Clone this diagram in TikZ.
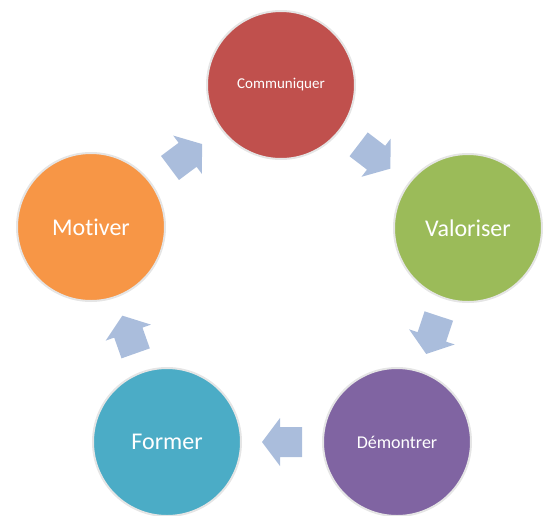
\documentclass[tikz,border=0pt]{standalone}
\usepackage{fontspec}
\setmainfont[Ligatures=NoCommon]{Carlito}
\usetikzlibrary{calc}
\definecolor{comred}{RGB}{192,80,77}
\definecolor{valgreen}{RGB}{155,187,89}
\definecolor{dempurple}{RGB}{128,100,162}
\definecolor{foraqua}{RGB}{75,172,198}
\definecolor{motorange}{RGB}{247,150,70}
\definecolor{flowblue}{RGB}{170,189,220}
\tikzset{stage/.style={circle, minimum size=148pt, inner sep=0pt, draw=black!10, line width=2pt, text=white, font=\fontsize{24}{28}\selectfont}}
\tikzset{flow/.style={fill=flowblue, draw=none}}
\begin{document}
\begin{tikzpicture}[x=1pt, y=-1pt]
    \useasboundingbox (0, 0) rectangle (552, 515);
    \node[stage, fill=comred, font=\fontsize{15}{18}\selectfont] (C) at (281, 85) {Communiquer};
    \node[stage, fill=valgreen] (V) at (468, 228) {Valoriser};
    \node[stage, fill=dempurple, font=\fontsize{18}{22}\selectfont] (D) at (397, 442) {Démontrer};
    \node[stage, fill=foraqua] (F) at (167, 442) {Former};
    \node[stage, fill=motorange] (M) at (91, 227) {Motiver};
    \foreach \a/\b in {M/C, C/V, V/D, D/F, F/M} {
        \path let \p1 = ($(\b) - (\a)$) in \pgfextra{\pgfmathparse{atan2(\y1, \x1)}\xdef\tilt{\pgfmathresult}};
        \begin{scope}[shift={($(\a)!0.5!(\b)$)}, rotate=\tilt]
            \fill[flow] (-20, 15) -- (2, 15) -- (2, 24) -- (20, 0) -- (2, -24) -- (2, -15) -- (-20, -15) -- cycle;
        \end{scope}
    }
\end{tikzpicture}
\end{document}
